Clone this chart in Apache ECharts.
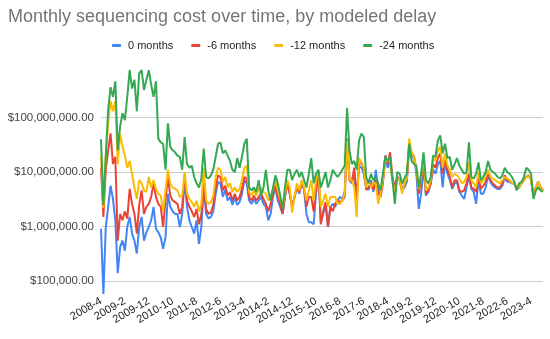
<!DOCTYPE html>
<html>
<head>
<meta charset="utf-8">
<script src="https://cdn.jsdelivr.net/npm/echarts@6/dist/echarts.min.js"></script>
<style>
  html, body { margin: 0; padding: 0; background: #fff; }
  #chart { width: 550px; height: 339px; }
</style>
</head>
<body>
<div id="chart"></div>
<script>
// Month labels, April 2008 through September 2023
const months = [
  '2008-4','2008-5','2008-6','2008-7','2008-8','2008-9','2008-10','2008-11','2008-12',
  '2009-1','2009-2','2009-3','2009-4','2009-5','2009-6','2009-7','2009-8','2009-9','2009-10','2009-11','2009-12',
  '2010-1','2010-2','2010-3','2010-4','2010-5','2010-6','2010-7','2010-8','2010-9','2010-10','2010-11','2010-12',
  '2011-1','2011-2','2011-3','2011-4','2011-5','2011-6','2011-7','2011-8','2011-9','2011-10','2011-11','2011-12',
  '2012-1','2012-2','2012-3','2012-4','2012-5','2012-6','2012-7','2012-8','2012-9','2012-10','2012-11','2012-12',
  '2013-1','2013-2','2013-3','2013-4','2013-5','2013-6','2013-7','2013-8','2013-9','2013-10','2013-11','2013-12',
  '2014-1','2014-2','2014-3','2014-4','2014-5','2014-6','2014-7','2014-8','2014-9','2014-10','2014-11','2014-12',
  '2015-1','2015-2','2015-3','2015-4','2015-5','2015-6','2015-7','2015-8','2015-9','2015-10','2015-11','2015-12',
  '2016-1','2016-2','2016-3','2016-4','2016-5','2016-6','2016-7','2016-8','2016-9','2016-10','2016-11','2016-12',
  '2017-1','2017-2','2017-3','2017-4','2017-5','2017-6','2017-7','2017-8','2017-9','2017-10','2017-11','2017-12',
  '2018-1','2018-2','2018-3','2018-4','2018-5','2018-6','2018-7','2018-8','2018-9','2018-10','2018-11','2018-12',
  '2019-1','2019-2','2019-3','2019-4','2019-5','2019-6','2019-7','2019-8','2019-9','2019-10','2019-11','2019-12',
  '2020-1','2020-2','2020-3','2020-4','2020-5','2020-6','2020-7','2020-8','2020-9','2020-10','2020-11','2020-12',
  '2021-1','2021-2','2021-3','2021-4','2021-5','2021-6','2021-7','2021-8','2021-9','2021-10','2021-11','2021-12',
  '2022-1','2022-2','2022-3','2022-4','2022-5','2022-6','2022-7','2022-8','2022-9','2022-10','2022-11','2022-12',
  '2023-1','2023-2','2023-3','2023-4','2023-5','2023-6','2023-7','2023-8','2023-9'
];

const seriesNames = ['0 months', '-6 months', '-12 months', '-24 months'];

// Monthly cost in dollars, one value per month
const delay0 = [
  9.1e5, 5.8e4, 9.8e5, 2.3e6, 5.6e6, 3.2e6, 1.3e6, 1.4e5, 4.2e5, 5.5e5,
  3.6e5, 1.0e6, 1.5e6, 7.4e5, 5.5e5, 3.2e5, 9.8e5, 1.5e6, 5.5e5, 7.9e5,
  9.8e5, 1.3e6, 2.3e6, 9.1e5, 7.9e5, 6.3e5, 3.9e5, 6.3e5, 4.0e6, 2.3e6,
  1.9e6, 1.7e6, 1.7e6, 9.8e5, 1.7e6, 7.1e6, 2.3e6, 1.3e6, 9.8e5, 7.4e5,
  1.3e6, 4.8e5, 9.8e5, 5.2e6, 1.7e6, 1.4e6, 1.5e6, 1.9e6, 4.0e6, 6.6e6,
  6.2e6, 3.5e6, 4.7e6, 3.0e6, 3.5e6, 2.5e6, 3.5e6, 2.5e6, 2.8e6, 4.0e6,
  7.1e6, 6.2e6, 3.0e6, 2.6e6, 3.2e6, 2.6e6, 3.0e6, 3.5e6, 2.6e6, 2.3e6,
  1.3e6, 1.7e6, 3.5e6, 5.2e6, 3.0e6, 2.3e6, 1.7e6, 3.5e6, 6.2e6, 4.0e6,
  2.3e6, 3.5e6, 5.2e6, 4.0e6, 6.2e6, 4.7e6, 1.7e6, 1.2e6, 1.2e6, 1.1e6,
  4.0e6, 1.0e7, 1.2e6, 1.7e6, 2.6e6, 9.8e5, 2.3e6, 2.6e6, 2.3e6, 3.0e6,
  3.5e6, 3.2e6, 4.3e6, 3.8e7, 7.1e6, 6.2e6, 9.3e6, 3.2e6, 1.3e7, 1.2e7,
  9.3e6, 5.2e6, 4.7e6, 7.1e6, 4.3e6, 1.1e7, 5.2e6, 3.5e6, 7.1e6, 2.0e7,
  1.2e7, 1.6e7, 7.1e6, 5.2e6, 8.1e6, 7.1e6, 4.6e6, 5.2e6, 6.6e6, 2.9e7,
  1.9e7, 1.8e7, 9.3e6, 2.1e6, 4.0e6, 1.2e7, 3.7e6, 4.3e6, 6.2e6, 1.1e7,
  9.3e6, 1.4e7, 1.6e7, 5.2e6, 1.5e7, 9.3e6, 7.1e6, 4.9e6, 6.2e6, 6.6e6,
  4.3e6, 3.7e6, 3.2e6, 5.2e6, 8.7e6, 4.9e6, 4.3e6, 2.6e6, 7.1e6, 4.0e6,
  4.0e6, 5.2e6, 8.7e6, 6.6e6, 5.6e6, 5.2e6, 4.9e6, 4.9e6, 5.6e6, 8.1e6,
  6.6e6, 6.6e6, 6.2e6, 6.2e6, 4.9e6, 5.2e6, 6.2e6, 7.1e6, 8.1e6, 8.7e6,
  7.1e6, 3.7e6, 5.2e6, 6.6e6, 5.2e6, 4.6e6
];

const delay6 = [
  1.2e7, 1.5e6, 1.1e7, 2.5e7, 5.1e7, 1.4e7, 1.9e7, 5.5e5, 1.7e6, 1.3e6,
  1.9e6, 1.4e6, 4.9e6, 2.6e6, 1.7e6, 7.4e5, 2.5e6, 4.6e6, 1.7e6, 2.3e6,
  2.6e6, 3.5e6, 6.2e6, 3.5e6, 2.6e6, 2.3e6, 9.8e5, 3.0e6, 8.1e6, 3.7e6,
  3.0e6, 2.8e6, 2.6e6, 1.7e6, 2.3e6, 8.7e6, 3.0e6, 2.3e6, 1.9e6, 1.5e6,
  2.1e6, 1.1e6, 1.7e6, 6.2e6, 2.1e6, 1.7e6, 1.8e6, 2.5e6, 5.2e6, 8.7e6,
  8.1e6, 4.6e6, 5.6e6, 3.7e6, 4.3e6, 3.0e6, 4.0e6, 3.0e6, 3.5e6, 4.9e6,
  8.1e6, 7.6e6, 3.5e6, 3.0e6, 3.7e6, 3.0e6, 3.5e6, 4.0e6, 3.2e6, 2.6e6,
  1.9e6, 2.6e6, 4.0e6, 6.2e6, 3.5e6, 2.6e6, 1.7e6, 3.5e6, 6.2e6, 4.0e6,
  2.3e6, 3.5e6, 5.2e6, 4.3e6, 6.2e6, 4.9e6, 2.3e6, 3.5e6, 3.5e6, 1.9e6,
  5.2e6, 1.0e7, 1.1e6, 1.9e6, 2.8e6, 1.0e6, 2.3e6, 1.9e6, 2.6e6, 3.0e6,
  2.8e6, 3.0e6, 3.5e6, 4.1e7, 7.1e6, 6.6e6, 1.2e7, 3.5e6, 1.4e7, 1.5e7,
  1.1e7, 4.7e6, 5.2e6, 6.2e6, 4.7e6, 7.1e6, 4.0e6, 3.5e6, 6.2e6, 2.0e7,
  1.4e7, 2.3e7, 8.1e6, 5.2e6, 8.1e6, 7.1e6, 4.6e6, 6.2e6, 7.1e6, 3.5e7,
  2.2e7, 2.0e7, 1.1e7, 4.0e6, 7.1e6, 1.6e7, 4.0e6, 4.6e6, 6.2e6, 1.4e7,
  1.2e7, 1.8e7, 2.2e7, 9.3e6, 1.9e7, 1.1e7, 8.1e6, 5.2e6, 7.1e6, 7.1e6,
  4.6e6, 4.3e6, 4.6e6, 6.2e6, 9.3e6, 5.2e6, 4.9e6, 4.3e6, 8.1e6, 4.9e6,
  5.6e6, 6.6e6, 9.3e6, 7.1e6, 6.2e6, 5.6e6, 5.2e6, 5.2e6, 6.2e6, 8.7e6,
  7.1e6, 7.1e6, 6.2e6, 6.2e6, 4.9e6, 5.2e6, 6.2e6, 7.1e6, 8.1e6, 8.7e6,
  7.1e6, 3.7e6, 5.2e6, 6.6e6, 5.2e6, 4.6e6
];

const delay12 = [
  2.0e7, 2.2e6, 2.0e7, 7.9e7, 2.0e8, 1.3e8, 2.0e8, 1.4e7, 5.0e7, 2.9e7,
  2.0e7, 1.2e7, 1.6e7, 9.3e6, 5.2e6, 3.2e6, 7.1e6, 6.2e6, 4.6e6, 4.3e6,
  8.1e6, 5.2e6, 7.1e6, 4.9e6, 4.0e6, 3.7e6, 1.9e6, 4.6e6, 1.1e7, 6.2e6,
  5.2e6, 4.9e6, 4.6e6, 3.5e6, 3.7e6, 1.0e7, 4.0e6, 3.2e6, 2.8e6, 2.3e6,
  3.0e6, 1.9e6, 2.6e6, 1.2e7, 3.0e6, 2.6e6, 2.8e6, 3.7e6, 8.1e6, 1.2e7,
  1.1e7, 6.6e6, 8.1e6, 5.2e6, 6.2e6, 4.3e6, 5.2e6, 4.3e6, 4.9e6, 7.1e6,
  1.2e7, 1.3e7, 4.3e6, 3.7e6, 4.6e6, 3.7e6, 4.9e6, 5.2e6, 4.3e6, 4.0e6,
  3.0e6, 3.5e6, 4.9e6, 7.1e6, 4.6e6, 3.2e6, 2.3e6, 4.0e6, 7.1e6, 5.2e6,
  1.8e6, 3.5e6, 6.2e6, 4.6e6, 7.1e6, 5.2e6, 3.0e6, 4.6e6, 7.1e6, 3.0e6,
  7.1e6, 1.1e7, 2.3e6, 3.0e6, 4.0e6, 2.3e6, 3.5e6, 3.5e6, 3.5e6, 2.6e6,
  2.6e6, 3.0e6, 4.0e6, 3.8e7, 7.1e6, 7.1e6, 5.2e6, 1.5e6, 1.8e7, 1.5e7,
  1.2e7, 5.2e6, 7.1e6, 5.2e6, 6.2e6, 6.2e6, 2.6e6, 4.0e6, 7.1e6, 1.6e7,
  1.6e7, 1.6e7, 7.1e6, 4.3e6, 7.1e6, 7.6e6, 4.0e6, 6.2e6, 7.6e6, 4.1e7,
  2.3e7, 1.9e7, 1.1e7, 4.9e6, 8.1e6, 2.0e7, 4.6e6, 5.2e6, 7.1e6, 1.8e7,
  1.6e7, 2.5e7, 2.9e7, 1.2e7, 2.2e7, 1.3e7, 1.1e7, 8.1e6, 9.3e6, 8.7e6,
  7.6e6, 6.2e6, 6.6e6, 8.1e6, 1.5e7, 7.1e6, 6.2e6, 5.2e6, 1.0e7, 6.2e6,
  7.1e6, 8.1e6, 1.1e7, 8.1e6, 7.6e6, 7.1e6, 6.6e6, 6.2e6, 7.1e6, 8.1e6,
  7.6e6, 7.1e6, 6.2e6, 6.2e6, 4.9e6, 5.2e6, 6.2e6, 7.1e6, 8.1e6, 8.7e6,
  7.1e6, 3.7e6, 5.2e6, 6.6e6, 5.2e6, 4.6e6
];

const delay24 = [
  4.0e7, 2.5e6, 2.0e7, 1.4e8, 3.6e8, 2.4e8, 4.6e8, 2.5e7, 6.8e7, 1.2e8,
  8.9e7, 2.4e8, 7.4e8, 3.4e8, 4.9e8, 1.3e8, 6.5e8, 7.4e8, 3.2e8, 4.9e8,
  7.4e8, 4.0e8, 2.4e8, 4.6e8, 4.1e7, 3.5e7, 3.3e7, 1.1e7, 7.8e7, 2.9e7,
  2.5e7, 2.3e7, 2.0e7, 1.9e7, 1.1e7, 4.4e7, 1.4e7, 1.2e7, 1.3e7, 8.1e6,
  6.2e6, 5.2e6, 7.6e6, 2.7e7, 8.1e6, 7.6e6, 8.7e6, 1.1e7, 1.9e7, 3.3e7,
  3.5e7, 2.2e7, 2.5e7, 2.0e7, 1.6e7, 1.1e7, 1.0e7, 1.8e7, 1.2e7, 1.9e7,
  3.3e7, 4.1e7, 5.2e6, 4.6e6, 5.2e6, 4.3e6, 7.1e6, 3.7e6, 5.2e6, 1.1e7,
  4.6e6, 3.0e6, 5.2e6, 8.7e6, 6.2e6, 3.7e6, 2.1e6, 5.2e6, 1.1e7, 1.1e7,
  7.1e6, 9.3e6, 1.1e7, 8.1e6, 1.0e7, 7.1e6, 5.2e6, 9.3e6, 1.8e7, 6.2e6,
  9.3e6, 1.1e7, 5.2e6, 7.1e6, 1.0e7, 5.2e6, 7.1e6, 1.1e7, 9.3e6, 8.1e6,
  9.3e6, 1.1e7, 1.3e7, 1.5e8, 2.5e7, 1.4e7, 1.6e7, 1.1e7, 3.8e7, 5.1e7,
  4.4e7, 8.1e6, 6.2e6, 9.3e6, 7.1e6, 8.1e6, 6.2e6, 4.6e6, 9.3e6, 1.9e7,
  1.6e7, 1.9e7, 7.1e6, 2.6e6, 1.0e7, 9.3e6, 6.2e6, 7.6e6, 9.3e6, 3.3e7,
  1.6e7, 1.4e7, 1.3e7, 5.2e6, 9.3e6, 2.3e7, 7.1e6, 6.2e6, 8.1e6, 2.0e7,
  1.9e7, 3.8e7, 4.7e7, 2.2e7, 3.3e7, 1.8e7, 1.9e7, 1.1e7, 1.4e7, 1.8e7,
  1.3e7, 1.1e7, 9.3e6, 1.0e7, 3.5e7, 8.1e6, 7.6e6, 9.3e6, 1.5e7, 7.1e6,
  8.1e6, 1.0e7, 1.6e7, 1.1e7, 1.0e7, 9.3e6, 8.1e6, 7.6e6, 8.7e6, 1.2e7,
  1.0e7, 9.3e6, 8.1e6, 6.6e6, 4.6e6, 6.2e6, 6.6e6, 8.1e6, 1.2e7, 1.1e7,
  9.3e6, 3.2e6, 4.6e6, 5.2e6, 4.6e6, 4.3e6
];

const seriesColors = ['#4285F4', '#EA4335', '#FBBC04', '#34A853'];
const seriesData = [delay0, delay6, delay12, delay24];

const FONT = 'Arial, "Liberation Sans", sans-serif';

function dollars(v) {
  return '$' + Math.round(v).toLocaleString('en-US', {
    minimumFractionDigits: 2, maximumFractionDigits: 2
  });
}

const chart = echarts.init(document.getElementById('chart'), null, { renderer: 'canvas' });

chart.setOption({
  animation: false,
  backgroundColor: '#ffffff',
  title: {
    text: 'Monthly sequencing cost over time, by modeled delay',
    left: 8,
    top: 8,
    padding: 0,
    textStyle: { fontFamily: FONT, fontSize: 18, fontWeight: 'normal', color: '#757575' }
  },
  legend: {
    data: seriesNames,
    left: 112,
    top: 40,
    padding: 0,
    itemGap: 18,
    itemWidth: 9,
    itemHeight: 3,
    icon: 'roundRect',
    textStyle: { fontFamily: FONT, fontSize: 11, color: '#222222', padding: [0, 0, 0, 2] }
  },
  grid: { left: 101, right: 7, top: 63, bottom: 41.6, containLabel: false },
  xAxis: {
    type: 'category',
    data: months,
    boundaryGap: false,
    axisLine: { show: false },
    axisTick: { show: false },
    axisLabel: {
      interval: 9,
      rotate: 30,
      margin: 3,
      fontFamily: FONT,
      fontSize: 11,
      color: '#222222'
    },
    splitLine: { show: false }
  },
  yAxis: {
    type: 'log',
    logBase: 10,
    min: 50118.72,
    max: 1e9,
    axisLine: { show: false },
    axisTick: { show: false },
    axisLabel: {
      showMinLabel: false,
      showMaxLabel: false,
      margin: 7,
      fontFamily: FONT,
      fontSize: 11.5,
      color: '#444444',
      formatter: dollars
    },
    splitLine: {
      show: true,
      showMinLine: false,
      showMaxLine: false,
      lineStyle: { color: '#cccccc', width: 1 }
    }
  },
  series: seriesNames.map((name, k) => ({
    name: name,
    type: 'line',
    data: seriesData[k],
    showSymbol: false,
    symbol: 'none',
    color: seriesColors[k],
    lineStyle: { width: 2, color: seriesColors[k] },
    emphasis: { disabled: true },
    z: 2 + k
  }))
});
</script>
</body>
</html>
